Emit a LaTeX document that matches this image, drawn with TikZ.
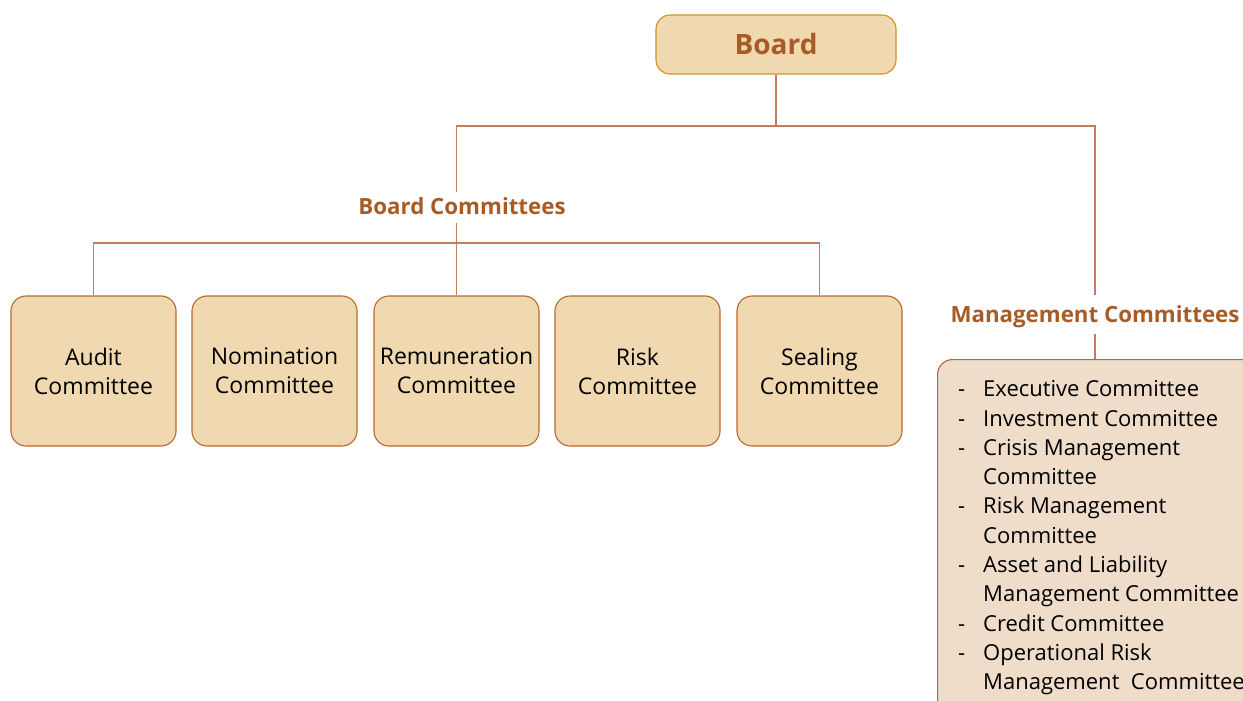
\documentclass[tikz,border=0pt]{standalone}
\usepackage{fontspec}
\setmainfont{Open Sans}
\usepackage{array}
\definecolor{boxfill}{HTML}{F0D8B1}
\definecolor{mgfill}{HTML}{EFDDCA}
\definecolor{boxline}{HTML}{B8692F}
\definecolor{boardline}{HTML}{D4901F}
\definecolor{conn}{HTML}{BF7F5C}
\definecolor{titlecol}{HTML}{A95B25}
\tikzset{
  combox/.style={draw=boxline, fill=boxfill, line width=1.1pt, rounded corners=15pt,
    minimum width=165pt, minimum height=150pt, align=center, inner sep=0pt,
    font=\fontsize{23}{29}\selectfont},
  grouplabel/.style={text=titlecol, font=\fontsize{22.3}{26}\selectfont\bfseries, inner sep=0pt},
  connector/.style={draw=conn, line width=1.3pt},
}
\begin{document}
\begin{tikzpicture}[x=1pt,y=-1pt]
\useasboundingbox (0,0) rectangle (1243,701);
\clip (0,0) rectangle (1243,701);
\node[draw=boardline, fill=boxfill, line width=1.1pt, rounded corners=14pt,
  minimum width=240pt, minimum height=59pt, inner sep=0pt, text=titlecol,
  font=\fontsize{28}{32}\selectfont\bfseries] (board) at (776,44.5) {Board};
\node[grouplabel, minimum height=31pt] (bc) at (462,207.5) {\raisebox{2.5pt}{Board Committees}};
\node[grouplabel] (mc) at (1095,317) {Management Committees};
\coordinate (mctop) at (1095,295);
\coordinate (mcbot) at (1095,334);
\node[combox] (audit) at (93.5,371) {Audit\\Committee};
\node[combox] (nom) at (274.5,371) {Nomination\\Committee};
\node[combox] (rem) at (456.5,371) {Remuneration\\Committee};
\node[combox] (risk) at (637.5,371) {Risk\\Committee};
\node[combox] (seal) at (819.5,371) {Sealing\\Committee};
\node[draw=boxline, fill=mgfill, line width=1.1pt, rounded corners=15pt,
  minimum width=380pt, minimum height=400pt, anchor=north west, inner sep=0pt] (mgmt) at (937,359) {};
\node[anchor=north west, inner sep=0pt, align=left] (mlist) at (958,376)
{\fontsize{22}{29.3}\selectfont
\begin{tabular}{@{}p{25pt}@{}l@{}}
-& Executive Committee\\
-& Investment Committee\\
-& Crisis Management\\
 & Committee\\
-& Risk Management\\
 & Committee\\
-& Asset and Liability\\
 & Management Committee\\
-& Credit Committee\\
-& Operational Risk\\
 & Management\ \ Committee
\end{tabular}};
\coordinate (j1) at (776,126);
\coordinate (hb) at (457,243);
\draw[connector] (board.south) -- (j1);
\draw[connector] (j1) -| (bc.north -| rem.north);
\draw[connector] (j1) -| (mctop);
\draw[connector] (bc.south -| rem.north) -- (rem.north);
\draw[connector] (audit.north) |- (hb);
\draw[connector] (seal.north) |- (hb);
\draw[connector] (mcbot) -- (mcbot |- mgmt.north);
\end{tikzpicture}
\end{document}
